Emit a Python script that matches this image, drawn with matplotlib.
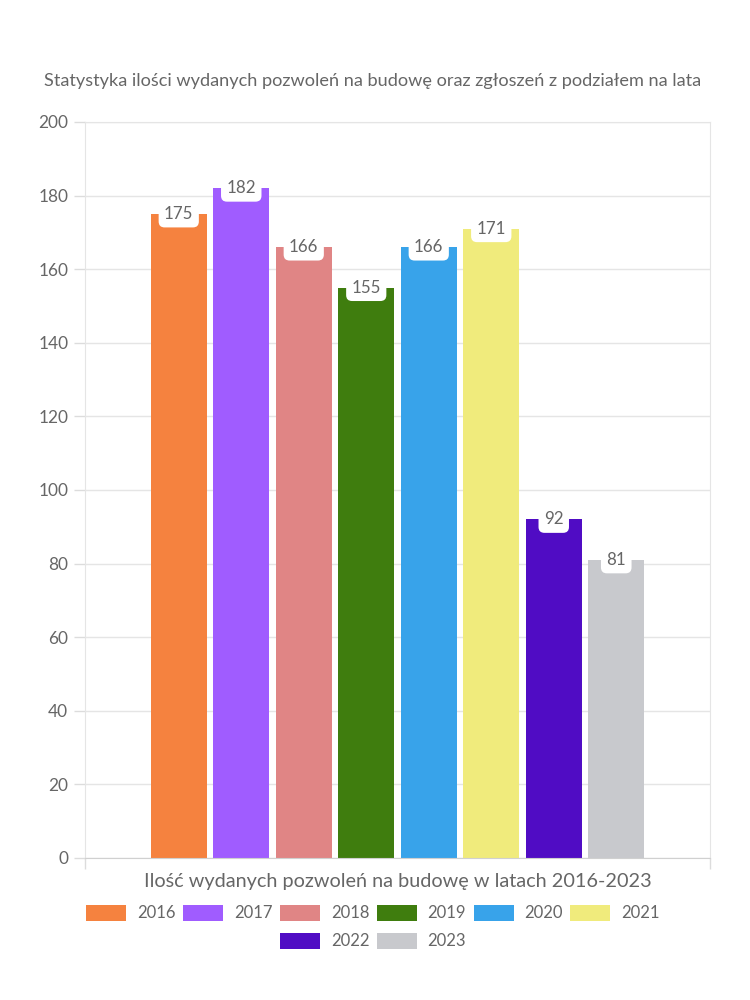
import matplotlib
matplotlib.use("Agg")
import matplotlib.pyplot as plt
from matplotlib.patches import Patch

YEARS = ["2016", "2017", "2018", "2019", "2020", "2021", "2022", "2023"]
VALUES = [175, 182, 166, 155, 166, 171, 92, 81]
COLORS = ["#f5823f", "#a05cff", "#e08585", "#3f7d0e",
          "#38a3ea", "#f0eb7c", "#500cc4", "#c8c9cd"]
Y_TICKS = [0, 20, 40, 60, 80, 100, 120, 140, 160, 180, 200]

TITLE = "Statystyka ilości wydanych pozwoleń na budowę oraz zgłoszeń z podziałem na lata"
XLABEL = "Ilość wydanych pozwoleń na budowę w latach 2016-2023"

TEXT_COLOR = "#666666"
GRID_COLOR = "#e5e5e5"

plt.rcParams["font.family"] = ["Lato", "DejaVu Sans"]

fig = plt.figure(figsize=(7.5, 10), dpi=100)
ax = fig.add_axes([85 / 750, 142 / 1000, 625 / 750, 736 / 1000])

# one category spanning the whole x range, bars side by side
positions = [1.5 + i for i in range(len(YEARS))]
ax.bar(positions, VALUES, width=0.9, color=COLORS, zorder=2)

for x, v in zip(positions, VALUES):
    ax.text(x, v, str(v), ha="center", va="center", fontsize=12.2,
            color=TEXT_COLOR, zorder=3,
            bbox=dict(boxstyle="round,pad=0.32,rounding_size=0.35",
                      fc="white", ec="none"))

ax.set_xlim(0, 10)
ax.set_ylim(0, 200)
ax.set_yticks(Y_TICKS)
ax.set_xticks([0, 10])
ax.set_xticklabels([])
ax.tick_params(axis="both", colors="#dcdcdc", length=8, width=1,
               labelcolor=TEXT_COLOR, labelsize=12.4)
ax.tick_params(axis="y", pad=4)
ax.grid(axis="y", color=GRID_COLOR, linewidth=1, zorder=0)
for side in ["left", "right", "top", "bottom"]:
    ax.spines[side].set_color(GRID_COLOR)
ax.spines["bottom"].set_color("#d0d0d0")

fig.text(373 / 750, 1 - 81 / 1000, TITLE, ha="center", va="center",
         fontsize=13.1, color=TEXT_COLOR)
fig.text(397.5 / 750, 1 - 881 / 1000, XLABEL, ha="center", va="center",
         fontsize=14.3, color=TEXT_COLOR)

handles = [Patch(facecolor=c, edgecolor="none", label=y)
           for c, y in zip(COLORS, YEARS)]
leg_kw = dict(frameon=False, fontsize=12, labelcolor=TEXT_COLOR,
              handlelength=2.4, handleheight=1.08, handletextpad=0.66,
              columnspacing=0.44, borderpad=0, borderaxespad=0, loc="center")
fig.legend(handles=handles[:6], ncol=6,
           bbox_to_anchor=(373 / 750, 1 - 913 / 1000), **leg_kw)
fig.legend(handles=handles[6:], ncol=2,
           bbox_to_anchor=(373 / 750, 1 - 941 / 1000), **leg_kw)

fig.savefig("out.png", dpi=100)
